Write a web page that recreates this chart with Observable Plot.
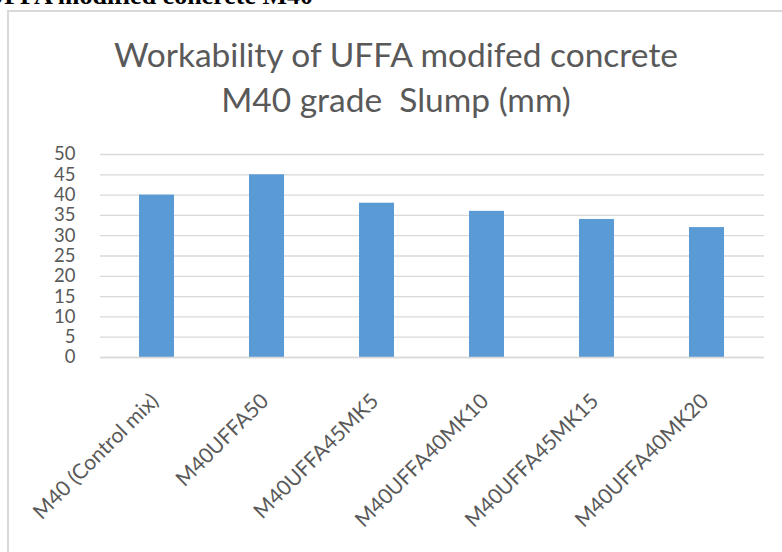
<!DOCTYPE html>
<html>
<head>
<meta charset="utf-8">
<script src="https://cdn.jsdelivr.net/npm/d3@7"></script>
<script src="https://cdn.jsdelivr.net/npm/@observablehq/plot@0.6"></script>
<style>
  html, body { margin: 0; padding: 0; background: #fff; }
  body { width: 782px; height: 552px; position: relative; overflow: hidden; }
  #cut { position: absolute; right: 469px; top: -17px; font-family: "Liberation Serif", serif; font-weight: bold; font-size: 26px; line-height: 26px; color: #000; white-space: nowrap; }
  #frame { position: absolute; left: 7px; top: 10px; width: 800px; height: 600px; border: 2px solid #d9d9d9; box-sizing: border-box; }
  #title { position: absolute; left: 5px; width: 782px; top: 31.5px; text-align: center; font-family: Lato, sans-serif; font-size: 33.5px; line-height: 45px; color: #595959; white-space: pre; }
  #chart { position: absolute; left: 0; top: 0; }
</style>
</head>
<body>
<div id="cut">UFFA modified concrete M40</div>
<div id="frame"></div>
<div id="chart"></div>
<div id="title">Workability of UFFA modifed concrete
M40 grade  Slump (mm)</div>
<script>
const categories = ["M40 (Control mix)", "M40UFFA50", "M40UFFA45MK5", "M40UFFA40MK10", "M40UFFA45MK15", "M40UFFA40MK20"];
const slump = [40, 45, 38, 36, 34, 32];
const yTicks = [0, 5, 10, 15, 20, 25, 30, 35, 40, 45, 50];

const data = categories.map((c, i) => ({category: c, value: slump[i]}));

const plot = Plot.plot({
  width: 782,
  height: 552,
  marginLeft: 100,
  marginRight: 18,
  marginTop: 154,
  marginBottom: 195,
  style: {fontFamily: "Lato, sans-serif", fontSize: "19px", color: "#595959", background: "transparent"},
  x: {domain: categories, paddingInner: 0.68, paddingOuter: 0.34, label: null},
  y: {domain: [0, 50], label: null},
  marks: [
    Plot.gridY(yTicks, {stroke: "#d9d9d9", strokeOpacity: 1, strokeWidth: 1.3}),
    Plot.barY(data, {x: "category", y: "value", fill: "#5b9bd5"}),
    Plot.ruleY([0], {stroke: "#d9d9d9", strokeWidth: 1.5}),
    Plot.axisY(yTicks, {tickSize: 0, tickPadding: 25, label: null, fontSize: 18.5, fill: "#595959"}),
    Plot.axisX({tickSize: 0, tickPadding: 40, dx: -2, tickRotate: -45, label: null, fontSize: 21, fill: "#595959"})
  ]
});
document.getElementById("chart").appendChild(plot);
</script>
</body>
</html>
